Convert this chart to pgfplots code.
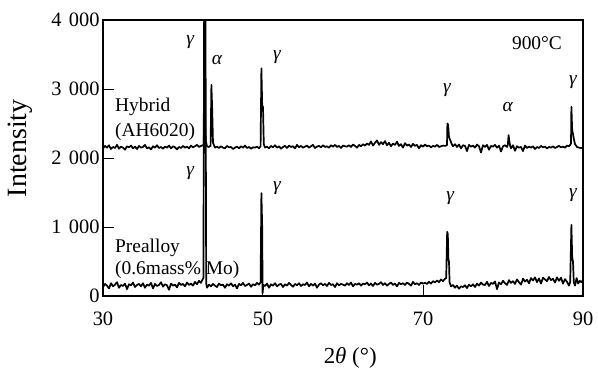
\documentclass[border=0pt]{standalone}
\usepackage{fontspec}
\setmainfont{Liberation Serif}
\usepackage{pgfplots}
\pgfplotsset{compat=1.18}
\begin{document}
\begin{tikzpicture}
\path[use as bounding box] (-103bp,-75bp) rectangle (495bp,296bp);
\begin{axis}[
  scale only axis, width=480bp, height=276bp,
  xmin=30, xmax=90, ymin=0, ymax=4000,
  xtick={30,50,70,90}, ytick={0,1000,2000,3000,4000},
  tick align=inside, xtick pos=lower, ytick pos=left,
  major tick length=11bp,
  axis line style={line width=1.6bp},
  every tick/.style={black, line width=1bp},
  /pgf/number format/assume math mode=true,
  /pgf/number format/1000 sep={\kern0.35em},
  tick label style={font=\fontsize{20.5}{22}\selectfont},
  xticklabel style={yshift=-12bp},
  ylabel={Intensity},
  ylabel style={font=\fontsize{28}{30}\selectfont, at={(axis description cs:-0.173,0.535)}, anchor=center},
  xlabel={2{\itshape θ} (°)},
  xlabel style={font=\fontsize{23}{25}\selectfont, at={(axis description cs:0.515,-0.225)}, anchor=center},
  no markers,
]
% Hybrid (AH6020)
\addplot[black, line width=1.7bp, mark=none, line join=round] coordinates {
(30.00,2140)(30.25,2175)(30.50,2150)(30.75,2185)(31.00,2130)(31.25,2160)(31.50,2145)(31.75,2190)(32.00,2135)(32.25,2165)
(32.50,2150)(32.75,2120)(33.00,2170)(33.25,2155)(33.50,2180)(33.75,2140)(34.00,2165)(34.25,2130)(34.50,2175)(34.75,2150)
(35.00,2160)(35.25,2190)(35.50,2140)(35.75,2155)(36.00,2125)(36.25,2170)(36.50,2150)(36.75,2185)(37.00,2145)(37.25,2160)
(37.50,2135)(37.75,2165)(38.00,2150)(38.25,2180)(38.50,2140)(38.75,2170)(39.00,2155)(39.25,2125)(39.50,2160)(39.75,2145)
(40.00,2175)(40.25,2150)(40.50,2165)(40.75,2140)(41.00,2180)(41.25,2155)(41.50,2170)(41.75,2190)(42.00,2160)(42.25,2175)
(42.50,2185)(42.60,2200)(42.65,3180)(42.75,2600)(42.85,2250)(43.00,2170)(43.25,2160)(43.45,2180)(43.55,3060)(43.65,2700)(43.75,2220)
(44.00,2150)(44.25,2165)(44.50,2145)(44.75,2170)(45.00,2150)(45.25,2140)(45.50,2175)(45.75,2155)(46.00,2160)(46.25,2130)(46.50,2150)
(46.75,2165)(47.00,2140)(47.25,2170)(47.50,2150)(47.75,2180)(48.00,2145)(48.25,2160)(48.50,2135)(48.75,2155)(49.00,2150)
(49.25,2165)(49.50,2140)(49.70,2170)(49.80,3300)(49.90,2760)(50.00,2740)(50.10,2200)(50.25,2150)
(50.50,2165)(50.75,2140)(51.00,2175)(51.25,2155)(51.50,2185)(51.75,2150)(52.00,2170)(52.25,2135)(52.50,2160)(52.75,2175)
(53.00,2145)(53.25,2180)(53.50,2160)(53.75,2170)(54.00,2140)(54.25,2190)(54.50,2155)(54.75,2175)(55.00,2150)(55.25,2165)
(55.50,2180)(55.75,2150)(56.00,2170)(56.25,2190)(56.50,2145)(56.75,2165)(57.00,2175)(57.25,2155)(57.50,2185)(57.75,2160)
(58.00,2170)(58.25,2150)(58.50,2185)(58.75,2165)(59.00,2190)(59.25,2160)(59.50,2175)(59.75,2145)(60.00,2180)(60.25,2170)
(60.50,2165)(60.75,2185)(61.00,2160)(61.25,2195)(61.50,2175)(61.75,2150)(62.00,2190)(62.25,2170)(62.50,2200)(62.75,2180)
(63.00,2210)(63.25,2190)(63.50,2240)(63.75,2180)(64.00,2220)(64.25,2255)(64.50,2190)(64.75,2230)(65.00,2200)(65.25,2245)
(65.50,2185)(65.75,2220)(66.00,2170)(66.25,2210)(66.50,2190)(66.75,2235)(67.00,2175)(67.25,2200)(67.50,2150)(67.75,2215)
(68.00,2180)(68.25,2195)(68.50,2160)(68.75,2205)(69.00,2175)(69.25,2190)(69.50,2140)(69.75,2185)(70.00,2165)(70.25,2195)
(70.50,2170)(70.75,2180)(71.00,2155)(71.25,2175)(71.50,2165)(71.75,2190)(72.00,2160)(72.25,2170)(72.50,2180)(72.75,2175)
(73.00,2185)(73.05,2500)(73.15,2480)(73.25,2300)(73.40,2260)(73.60,2200)(73.75,2170)
(74.00,2200)(74.25,2160)(74.50,2195)(74.75,2140)(75.00,2185)(75.25,2175)(75.50,2100)(75.75,2190)(76.00,2165)(76.25,2180)
(76.50,2150)(76.75,2195)(77.00,2170)(77.25,2080)(77.50,2185)(77.75,2160)(78.00,2190)(78.25,2120)(78.50,2175)(78.75,2165)
(79.00,2190)(79.25,2150)(79.50,2180)(79.75,2095)(80.00,2170)(80.25,2185)(80.50,2160)
(80.60,2190)(80.70,2330)(80.80,2240)(80.90,2170)
(81.00,2140)(81.25,2185)(81.50,2105)(81.75,2170)(82.00,2150)(82.25,2160)(82.50,2100)(82.75,2180)(83.00,2145)(83.25,2165)
(83.50,2150)(83.75,2170)(84.00,2130)(84.25,2160)(84.50,2145)(84.75,2175)(85.00,2155)(85.25,2165)(85.50,2140)(85.75,2160)
(86.00,2150)(86.25,2170)(86.50,2145)(86.75,2160)(87.00,2175)(87.25,2155)(87.50,2165)(87.75,2150)(88.00,2180)(88.25,2170)
(88.40,2190)(88.50,2210)(88.55,2740)(88.65,2400)(88.75,2350)(88.85,2280)(89.00,2200)(89.25,2160)(89.50,2150)(89.75,2145)(90.00,2150)
};
% Prealloy (0.6mass% Mo)
\addplot[black, line width=1.7bp, mark=none, line join=round] coordinates {
(30.00,130)(30.25,175)(30.50,150)(30.75,110)(31.00,185)(31.25,140)(31.50,165)(31.75,200)(32.00,120)(32.25,160)
(32.50,145)(32.75,180)(33.00,100)(33.25,170)(33.50,155)(33.75,195)(34.00,130)(34.25,160)(34.50,175)(34.75,140)
(35.00,185)(35.25,120)(35.50,165)(35.75,150)(36.00,190)(36.25,110)(36.50,175)(36.75,145)(37.00,160)(37.25,200)
(37.50,135)(37.75,170)(38.00,155)(38.25,90)(38.50,180)(38.75,150)(39.00,165)(39.25,125)(39.50,190)(39.75,160)
(40.00,175)(40.25,140)(40.50,195)(40.75,160)(41.00,180)(41.25,150)(41.50,205)(41.75,170)(42.00,220)(42.25,190)
(42.40,230)(42.55,260)(42.65,4500)(42.80,4500)(42.90,180)(43.00,120)
(43.25,165)(43.50,140)(43.75,175)(44.00,150)(44.25,130)(44.50,180)(44.75,155)(45.00,165)(45.25,120)(45.50,170)
(45.75,150)(46.00,185)(46.25,140)(46.50,165)(46.75,110)(47.00,175)(47.25,155)(47.50,190)(47.75,145)(48.00,160)
(48.25,180)(48.50,135)(48.75,170)(49.00,155)(49.25,190)(49.50,165)
(49.70,200)(49.80,1490)(49.90,1000)(49.95,40)(50.05,160)
(50.25,145)(50.50,180)(50.75,120)(51.00,170)(51.25,150)(51.50,185)(51.75,140)(52.00,165)(52.25,175)(52.50,130)
(52.75,170)(53.00,150)(53.25,190)(53.50,160)(53.75,135)(54.00,175)(54.25,155)(54.50,185)(54.75,145)(55.00,170)
(55.25,160)(55.50,195)(55.75,140)(56.00,175)(56.25,150)(56.50,180)(56.75,120)(57.00,165)(57.25,185)(57.50,155)
(57.75,175)(58.00,145)(58.25,190)(58.50,160)(58.75,170)(59.00,130)(59.25,185)(59.50,155)(59.75,175)(60.00,165)
(60.25,150)(60.50,185)(60.75,160)(61.00,195)(61.25,140)(61.50,175)(61.75,165)(62.00,185)(62.25,150)(62.50,180)
(62.75,170)(63.00,195)(63.25,155)(63.50,180)(63.75,145)(64.00,190)(64.25,165)(64.50,175)(64.75,200)(65.00,160)
(65.25,185)(65.50,150)(65.75,175)(66.00,195)(66.25,160)(66.50,180)(66.75,140)(67.00,190)(67.25,170)(67.50,185)
(67.75,160)(68.00,195)(68.25,175)(68.50,150)(68.75,205)(69.00,170)(69.25,185)(69.50,160)(69.75,195)(70.00,180)
(70.25,190)(70.50,175)(70.75,205)(71.00,180)(71.25,215)(71.50,195)(71.75,225)(72.00,200)(72.25,240)(72.50,215)
(72.75,250)(72.90,260)(73.02,930)(73.10,900)(73.18,520)(73.25,500)(73.32,200)(73.50,140)
(73.75,160)(74.00,120)(74.25,150)(74.50,105)(74.75,140)(75.00,130)(75.25,155)(75.50,115)(75.75,165)(76.00,140)
(76.25,170)(76.50,130)(76.75,180)(77.00,150)(77.25,195)(77.50,165)(77.75,160)(78.00,205)(78.25,145)(78.50,190)
(78.75,175)(79.00,210)(79.25,100)(79.50,195)(79.75,170)(80.00,220)(80.25,185)(80.50,160)(80.75,230)(81.00,190)
(81.25,215)(81.50,175)(81.75,240)(82.00,200)(82.25,165)(82.50,250)(82.75,210)(83.00,235)(83.25,185)(83.50,260)
(83.75,225)(84.00,270)(84.25,200)(84.50,255)(84.75,180)(85.00,265)(85.25,240)(85.50,215)(85.75,275)(86.00,230)
(86.25,250)(86.50,195)(86.75,270)(87.00,220)(87.25,265)(87.50,180)(87.75,245)(88.00,205)(88.25,150)
(88.40,200)(88.55,1030)(88.65,560)(88.75,500)(88.85,200)(89.00,150)(89.20,260)(89.40,180)(89.60,220)(89.80,200)(90.00,230)
};
\tikzset{lab/.style={font=\fontsize{19.5}{22}\selectfont, inner sep=0pt}}
\node[lab] at (axis cs:40.9,3680) {\itshape γ};
\node[lab] at (axis cs:44.25,3420) {\itshape α};
\node[lab] at (axis cs:51.75,3463) {\itshape γ};
\node[lab] at (axis cs:84.25,3666) {900°C};
\node[lab] at (axis cs:73.0,2985) {\itshape γ};
\node[lab] at (axis cs:80.6,2739) {\itshape α};
\node[lab] at (axis cs:88.75,3100) {\itshape γ};
\node[lab] at (axis cs:40.9,1782) {\itshape γ};
\node[lab] at (axis cs:51.75,1565) {\itshape γ};
\node[lab] at (axis cs:73.4,1420) {\itshape γ};
\node[lab] at (axis cs:88.75,1463) {\itshape γ};
\node[lab, anchor=west] at (axis cs:31.5,2739) {Hybrid};
\node[lab, anchor=west] at (axis cs:31.5,2376) {(AH6020)};
\node[lab, anchor=west] at (axis cs:31.5,696) {Prealloy};
\node[lab, anchor=west] at (axis cs:31.5,377) {(0.6mass\% Mo)};
\end{axis}
\end{tikzpicture}
\end{document}
